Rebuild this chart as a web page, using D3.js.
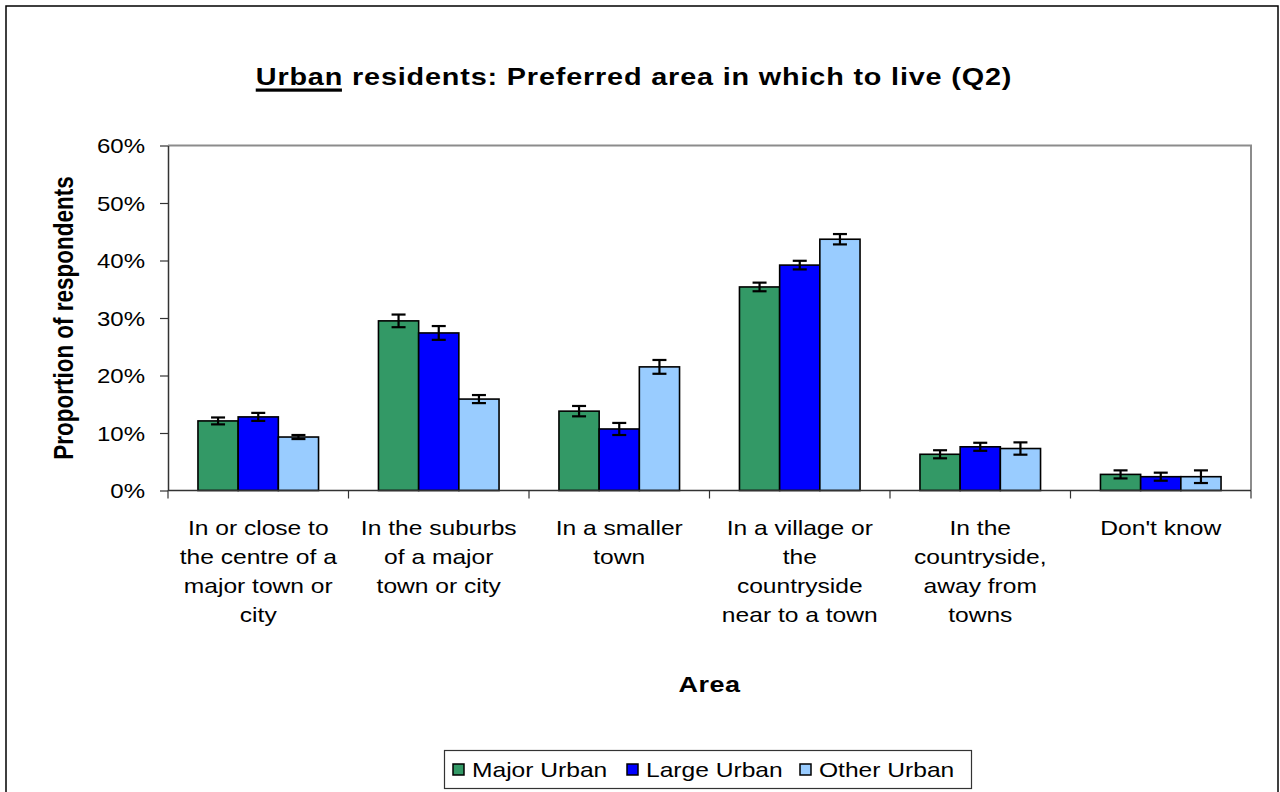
<!DOCTYPE html>
<html><head><meta charset="utf-8">
<script src="https://cdn.jsdelivr.net/npm/d3@7"></script>
<style>
html,body{margin:0;padding:0;background:#fff;}
svg{display:block;font-family:"Liberation Sans",Arial,sans-serif;}
</style></head>
<body>
<svg id="chart" width="1280" height="792"></svg>
<script>
// ---- data ----
const categories = [
  "In or close to\nthe centre of a\nmajor town or\ncity",
  "In the suburbs\nof a major\ntown or city",
  "In a smaller\ntown",
  "In a village or\nthe\ncountryside\nnear to a town",
  "In the\ncountryside,\naway from\ntowns",
  "Don't know"
];
const seriesNames = ["Major Urban", "Large Urban", "Other Urban"];
const seriesColors = ["#339966", "#0000FF", "#99CCFF"];
const majorUrban = [0.121, 0.295, 0.138, 0.354, 0.063, 0.028];
const largeUrban = [0.128, 0.274, 0.107, 0.392, 0.076, 0.024];
const otherUrban = [0.093, 0.159, 0.215, 0.437, 0.073, 0.024];
const majorErr = [0.006, 0.011, 0.009, 0.0075, 0.007, 0.007];
const largeErr = [0.007, 0.012, 0.0105, 0.0075, 0.007, 0.007];
const otherErr = [0.0035, 0.007, 0.012, 0.009, 0.0107, 0.011];
const yTicks = [0, 0.1, 0.2, 0.3, 0.4, 0.5, 0.6];
const titleUnderlined = "Urban";
const titleRest = " residents: Preferred area in which to live (Q2)";
const yTitle = "Proportion of respondents";
const xTitle = "Area";

const seriesValues = [majorUrban, largeUrban, otherUrban];
const seriesErrors = [majorErr, largeErr, otherErr];

// ---- layout ----
const SX = 1.2; // horizontal stretch of the original rendering
const svg = d3.select("#chart");
const plot = {left: 168, right: 1251, top: 145.5, bottom: 490.5};

// outer frame
svg.append("rect").attr("x", 6).attr("y", 6).attr("width", 1272).attr("height", 800)
  .attr("fill", "#fff").attr("stroke", "#000").attr("stroke-width", 1.5);

const x0 = d3.scaleBand().domain(categories).range([plot.left, plot.right]).paddingInner(0).paddingOuter(0);
const bw = x0.bandwidth();
const x1 = d3.scaleBand().domain(seriesNames).range([bw * 0.166, bw * 0.834]).padding(0);
const y = d3.scaleLinear().domain([0, 0.6]).range([plot.bottom, plot.top]);

// plot border (top & right, grey)
svg.append("path")
  .attr("d", `M${plot.left},${plot.top}H${plot.right}V${plot.bottom}`)
  .attr("fill", "none").attr("stroke", "#8c8c8c").attr("stroke-width", 2);

// bars
const groups = svg.append("g").selectAll("g").data(categories).join("g")
  .attr("transform", d => `translate(${x0(d)},0)`);
groups.each(function(cat, ci) {
  const g = d3.select(this);
  seriesNames.forEach((s, si) => {
    const v = seriesValues[si][ci];
    g.append("rect")
      .attr("x", x1(s)).attr("y", y(v))
      .attr("width", x1.bandwidth()).attr("height", y(0) - y(v))
      .attr("fill", seriesColors[si]).attr("stroke", "#000").attr("stroke-width", 1.6);
  });
});
// error bars
groups.each(function(cat, ci) {
  const g = d3.select(this);
  seriesNames.forEach((s, si) => {
    const v = seriesValues[si][ci], e = seriesErrors[si][ci];
    const cx = x1(s) + x1.bandwidth() / 2;
    const eb = g.append("g").attr("stroke", "#000").attr("stroke-width", 2.2);
    eb.append("line").attr("x1", cx).attr("x2", cx).attr("y1", y(v + e)).attr("y2", y(v - e));
    eb.append("line").attr("x1", cx - 7).attr("x2", cx + 7).attr("y1", y(v + e)).attr("y2", y(v + e));
    eb.append("line").attr("x1", cx - 7).attr("x2", cx + 7).attr("y1", y(v - e)).attr("y2", y(v - e));
  });
});

// y axis
const yAxis = svg.append("g").attr("transform", `translate(${plot.left},0)`)
  .call(d3.axisLeft(y).tickValues(yTicks).tickFormat(d3.format(".0%")).tickSize(8).tickSizeOuter(0));
yAxis.select(".domain").attr("stroke", "#333").attr("stroke-width", 1.5);
yAxis.selectAll(".tick line").attr("stroke", "#333").attr("stroke-width", 1.2);
yAxis.selectAll(".tick text")
  .attr("font-size", 20).attr("font-family", "Liberation Sans, Arial, sans-serif")
  .attr("fill", "#000")
  .attr("x", -23 / SX).attr("dy", "0.36em")
  .attr("transform", `scale(${SX},1)`);

// x axis
const xAxisG = svg.append("g");
xAxisG.append("line").attr("x1", plot.left).attr("x2", plot.right)
  .attr("y1", plot.bottom).attr("y2", plot.bottom).attr("stroke", "#333").attr("stroke-width", 1.5);
const boundaries = categories.map(c => x0(c)).concat([x0(categories[categories.length - 1]) + bw]);
xAxisG.selectAll("line.tk").data(boundaries).join("line").attr("class", "tk")
  .attr("x1", d => d).attr("x2", d => d).attr("y1", plot.bottom).attr("y2", plot.bottom + 8)
  .attr("stroke", "#333").attr("stroke-width", 1.2);

// category labels
categories.forEach(c => {
  const lines = c.split("\n");
  const g = svg.append("g").attr("transform", `translate(${x0(c) + bw / 2},535) scale(${SX},1)`);
  g.append("text").attr("text-anchor", "middle").attr("font-size", 20.5).attr("fill", "#000")
    .selectAll("tspan").data(lines).join("tspan")
    .attr("x", 0).attr("y", (d, i) => i * 29).text(d => d);
});

// axis titles
svg.append("g").attr("transform", `translate(${(plot.left + plot.right) / 2},692) scale(${SX},1)`)
  .append("text").attr("text-anchor", "middle").attr("font-size", 22.5).attr("font-weight", "bold")
  .attr("letter-spacing", 0.4).text(xTitle);
svg.append("g").attr("transform", `translate(73,${(plot.top + plot.bottom) / 2}) rotate(-90) scale(1,${SX})`)
  .append("text").attr("text-anchor", "middle").attr("font-size", 22.5).attr("font-weight", "bold")
  .text(yTitle);

// title
const tg = svg.append("g").attr("transform", `translate(634,85) scale(${SX},1)`);
const tt = tg.append("text").attr("font-size", 24).attr("font-weight", "bold").attr("fill", "#000")
  .attr("letter-spacing", 0.7);
const t1 = tt.append("tspan").text(titleUnderlined);
tt.append("tspan").text(titleRest);
const W = tt.node().getComputedTextLength();
const w1 = t1.node().getComputedTextLength();
tt.attr("x", -W / 2);
tg.append("rect").attr("x", -W / 2).attr("y", 3.5).attr("width", w1 - 1).attr("height", 3.2).attr("fill", "#000");

// legend
const leg = svg.append("g");
leg.append("rect").attr("x", 444.5).attr("y", 750.5).attr("width", 527).attr("height", 38)
  .attr("fill", "#fff").attr("stroke", "#333").attr("stroke-width", 1.2);
const legX = [453, 627, 800];
seriesNames.forEach((s, i) => {
  leg.append("rect").attr("x", legX[i]).attr("y", 764).attr("width", 11).attr("height", 11)
    .attr("fill", seriesColors[i]).attr("stroke", "#000").attr("stroke-width", 1.5);
  leg.append("g").attr("transform", `translate(${legX[i] + 19},777) scale(${SX},1)`)
    .append("text").attr("font-size", 20.5).attr("fill", "#000").text(s);
});
</script>
</body></html>
